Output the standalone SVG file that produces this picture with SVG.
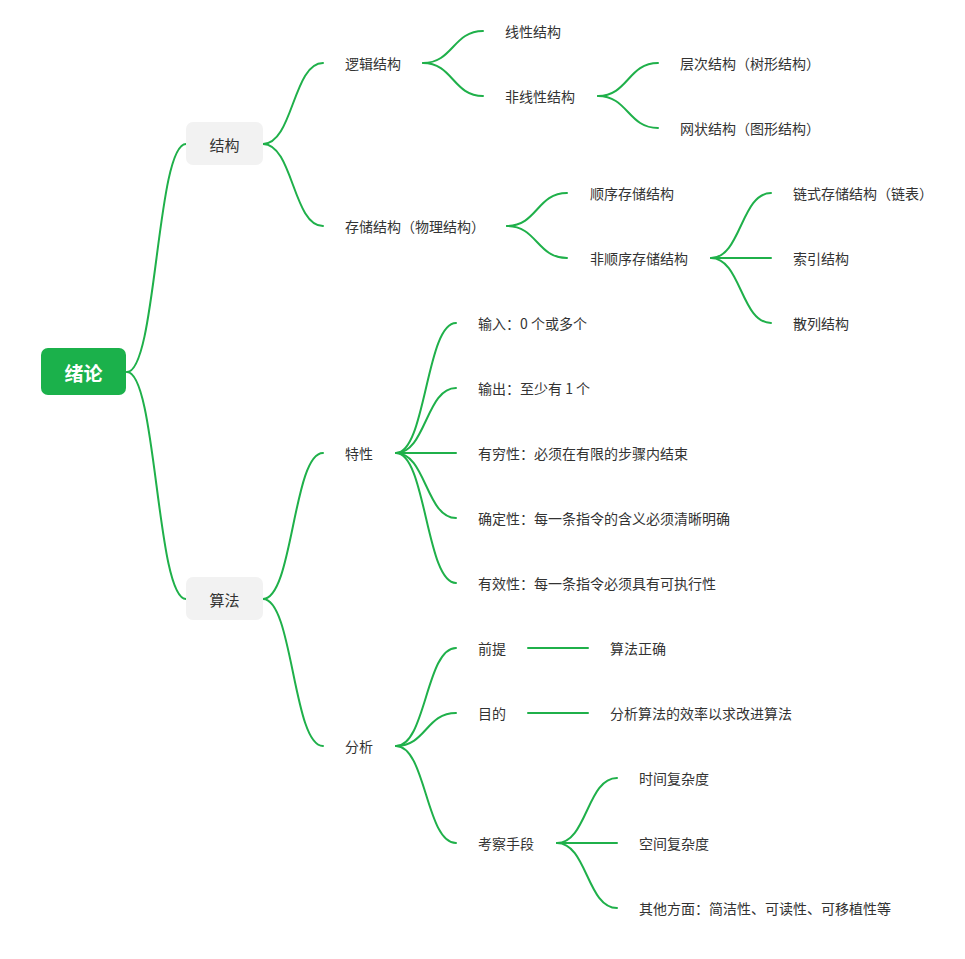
<svg xmlns="http://www.w3.org/2000/svg" width="965" height="959" viewBox="0 0 965 959">
<style>
.c{fill:none;stroke:#1fb04a;stroke-width:2;stroke-linecap:round}
.t{font-family:"PingFang SC","Noto Sans CJK SC","Noto Sans",sans-serif;font-size:14px;fill:#333;dominant-baseline:central}
.m{font-family:"PingFang SC","Noto Sans CJK SC","Noto Sans",sans-serif;font-size:15px;fill:#333;dominant-baseline:central;text-anchor:middle}
.r{font-family:"PingFang SC","Noto Sans CJK SC","Noto Sans",sans-serif;font-size:19px;font-weight:bold;fill:#fff;dominant-baseline:central;text-anchor:middle}
</style>
<rect width="965" height="959" fill="#fff"/>
<g id="connectors">
<path class="c" d="M127 372 C156.5 372 156.5 144 186 144"/>
<path class="c" d="M127 372 C156.5 372 156.5 599 186 599"/>
<path class="c" d="M263 144 C293 144 293 63 323 63"/>
<path class="c" d="M263 144 C293 144 293 226 323 226"/>
<path class="c" d="M423 63 C453 63 453 31 483 31"/>
<path class="c" d="M423 63 C453 63 453 96 483 96"/>
<path class="c" d="M598 96 C628 96 628 63 658 63"/>
<path class="c" d="M598 96 C628 96 628 128 658 128"/>
<path class="c" d="M507 226 C537 226 537 193 567 193"/>
<path class="c" d="M507 226 C537 226 537 258 567 258"/>
<path class="c" d="M711 258 C741 258 741 193 771 193"/>
<path class="c" d="M711 258 L771 258"/>
<path class="c" d="M711 258 C741 258 741 323 771 323"/>
<path class="c" d="M263 599 C293 599 293 453 323 453"/>
<path class="c" d="M263 599 C293 599 293 746 323 746"/>
<path class="c" d="M396 453 C426 453 426 323 456 323"/>
<path class="c" d="M396 453 C426 453 426 388 456 388"/>
<path class="c" d="M396 453 L456 453"/>
<path class="c" d="M396 453 C426 453 426 518 456 518"/>
<path class="c" d="M396 453 C426 453 426 583 456 583"/>
<path class="c" d="M396 746 C426 746 426 648 456 648"/>
<path class="c" d="M396 746 C426 746 426 713 456 713"/>
<path class="c" d="M396 746 C426 746 426 843 456 843"/>
<path class="c" d="M528 648 L588 648"/>
<path class="c" d="M528 713 L588 713"/>
<path class="c" d="M557 843 C587 843 587 778 617 778"/>
<path class="c" d="M557 843 L617 843"/>
<path class="c" d="M557 843 C587 843 587 908 617 908"/>
</g>
<g id="root"><rect x="41" y="348" width="85" height="47" rx="7" fill="#1bb14b"/><text class="r" x="83.5" y="372">绪论</text></g>
<g id="jiegou"><rect x="186" y="122" width="77" height="43" rx="7" fill="#f2f2f2"/><text class="m" x="224.5" y="144">结构</text></g>
<g id="suanfa"><rect x="186" y="577" width="77" height="43" rx="7" fill="#f2f2f2"/><text class="m" x="224.5" y="599">算法</text></g>
<g id="luoji"><text class="t" x="345" y="63">逻辑结构</text></g>
<g id="xianxing"><text class="t" x="505" y="31">线性结构</text></g>
<g id="feixianxing"><text class="t" x="505" y="96">非线性结构</text></g>
<g id="cengci"><text class="t" x="680" y="63">层次结构（树形结构）</text></g>
<g id="wangzhuang"><text class="t" x="680" y="128">网状结构（图形结构）</text></g>
<g id="cunchu"><text class="t" x="345" y="226">存储结构（物理结构）</text></g>
<g id="shunxu"><text class="t" x="590" y="193">顺序存储结构</text></g>
<g id="feishunxu"><text class="t" x="590" y="258">非顺序存储结构</text></g>
<g id="lianshi"><text class="t" x="793" y="193">链式存储结构（链表）</text></g>
<g id="suoyin"><text class="t" x="793" y="258">索引结构</text></g>
<g id="sanlie"><text class="t" x="793" y="323">散列结构</text></g>
<g id="texing"><text class="t" x="345" y="453">特性</text></g>
<g id="shuru"><text class="t" x="478" y="323">输入：0 个或多个</text></g>
<g id="shuchu"><text class="t" x="478" y="388">输出：至少有 1 个</text></g>
<g id="youqiong"><text class="t" x="478" y="453">有穷性：必须在有限的步骤内结束</text></g>
<g id="queding"><text class="t" x="478" y="518">确定性：每一条指令的含义必须清晰明确</text></g>
<g id="youxiao"><text class="t" x="478" y="583">有效性：每一条指令必须具有可执行性</text></g>
<g id="fenxi"><text class="t" x="345" y="746">分析</text></g>
<g id="qianti"><text class="t" x="478" y="648">前提</text></g>
<g id="zhengque"><text class="t" x="610" y="648">算法正确</text></g>
<g id="mudi"><text class="t" x="478" y="713">目的</text></g>
<g id="xiaolv"><text class="t" x="610" y="713">分析算法的效率以求改进算法</text></g>
<g id="kaocha"><text class="t" x="478" y="843">考察手段</text></g>
<g id="shijian"><text class="t" x="639" y="778">时间复杂度</text></g>
<g id="kongjian"><text class="t" x="639" y="843">空间复杂度</text></g>
<g id="qita"><text class="t" x="639" y="908">其他方面：简洁性、可读性、可移植性等</text></g>
</svg>
